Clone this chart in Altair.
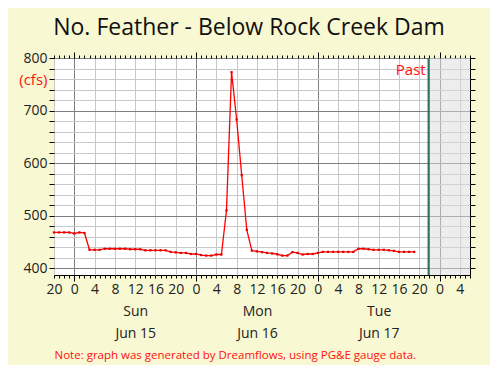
import altair as alt
import pandas as pd

# ---- data (hours counted from Jun 14 00:00) ----
start_hour = 20
flow = [468, 468, 468, 468, 466, 468, 467,
        435, 435, 435,
        437, 437, 437, 437, 437,
        436, 436, 436,
        434, 434, 434, 434, 434,
        431, 430, 429, 429, 427, 427, 425, 424, 424, 426, 426,
        510, 773, 683, 577, 473,
        433.5, 432, 430.5, 429, 428, 426.5, 424, 424, 430.5, 429, 426, 427, 427, 429,
        431, 431, 431, 431, 431, 431, 431,
        437, 437, 436, 435, 435, 435, 434, 433,
        431, 431, 431, 431]
hours = [start_hour + i for i in range(len(flow))]

x_domain = [20, 102]
y_domain = [387, 800]
past_hour = 93.85
past_label = "Past"
day_centers = [36, 60, 84]
day_names = ["Sun", "Mon", "Tue"]
day_dates = ["Jun 15", "Jun 16", "Jun 17"]
hour_ticks = list(range(20, 103))
midnights = [24, 48, 72, 96]
y_ticks = list(range(400, 801, 20))
units_value = 760
units = "(cfs)"
title = "No. Feather - Below Rock Creek Dam"
note = "Note: graph was generated by Dreamflows, using PG&E gauge data."

FONT = "Open Sans"
df = pd.DataFrame({"hour": hours, "flow": flow})
past_df = pd.DataFrame({"start": [past_hour], "end": [x_domain[1]],
                        "lo": [y_domain[0]], "hi": [y_domain[1]], "label": [past_label]})

xs = alt.Scale(domain=x_domain, nice=False, zero=False)
ys = alt.Scale(domain=y_domain, nice=False, zero=False)

# ---- axes ----
x_main = alt.Axis(
    orient="bottom", values=hour_ticks, tickSize=3, tickColor="black", domain=False,
    labelExpr="datum.value % 4 == 0 ? '' + (datum.value % 24) : ''",
    labelFontSize=14, labelFont=FONT, labelColor="#222", labelPadding=4,
    labelOverlap=False, labelFlush=False,
    grid=True,
    gridColor={"condition": {"test": "datum.value % 24 == 0", "value": "#808080"}, "value": "#c8c8c8"},
    gridOpacity={"condition": {"test": "datum.value % 4 == 0", "value": 1}, "value": 0},
    title=None)

y_main = alt.Axis(
    orient="left", values=y_ticks, tickSize=5, tickColor="black", domain=False,
    labelExpr=f"datum.value % 100 == 0 ? datum.label : (datum.value == {units_value} ? '{units}' : '')",
    labelColor={"condition": {"test": f"datum.value == {units_value}", "value": "#ff1010"}, "value": "#222"},
    labelFontSize={"condition": {"test": f"datum.value == {units_value}", "value": 15}, "value": 14},
    labelFont=FONT, labelPadding=2, labelOverlap=False, labelFlush=False,
    grid=True,
    gridColor={"condition": {"test": "datum.value % 100 == 0", "value": "#808080"}, "value": "#c8c8c8"},
    title=None)

x_mid_bottom = alt.Axis(orient="bottom", values=midnights, tickSize=6, tickColor="black",
                        labels=False, grid=False, domain=False, title=None)

day_expr = " : ".join(
    f"datum.value == {c} ? ['{d}', '{t}']" for c, d, t in zip(day_centers, day_names, day_dates)
) + " : ''"
x_days = alt.Axis(orient="bottom", values=day_centers, ticks=False, domain=False, grid=False,
                  labelExpr=day_expr, labelFontSize=14, labelFont=FONT, labelColor="#222",
                  labelPadding=29, labelLineHeight=22, labelOverlap=False, labelFlush=False,
                  title=note, titleColor="#ff1010", titleFontSize=11.5, titleFont=FONT,
                  titleFontWeight="normal", titleAnchor="start", titleAlign="left", titlePadding=9)

x_top = alt.Axis(orient="top", values=hour_ticks, tickSize=3, tickColor="black",
                 labels=False, grid=False, domain=False, title=None)
x_mid_top = alt.Axis(orient="top", values=midnights, tickSize=6, tickColor="black",
                     labels=False, grid=False, domain=False, title=None)
y_right = alt.Axis(orient="right", values=y_ticks, tickSize=5, tickColor="black",
                   labels=False, grid=False, domain=False, title=None)

# ---- layers ----
shade = alt.Chart(past_df).mark_rect(fill="#dcdcdc", opacity=0.5).encode(
    x=alt.X("start:Q", scale=xs, axis=x_days),
    x2="end:Q",
    y=alt.Y("lo:Q", scale=ys, axis=None),
    y2="hi:Q")

line = alt.Chart(df).mark_line(color="#ff0000", strokeWidth=1.3).encode(
    x=alt.X("hour:Q", scale=xs, axis=x_main),
    y=alt.Y("flow:Q", scale=ys, axis=y_main))

pts = alt.Chart(df).mark_square(color="#e00000", size=5, opacity=1).encode(
    x=alt.X("hour:Q", scale=xs, axis=x_mid_bottom),
    y=alt.Y("flow:Q", scale=ys, axis=None))

rule = alt.Chart(past_df).mark_rule(color="#2e7262", strokeWidth=2.2).encode(
    x=alt.X("start:Q", scale=xs, axis=x_top))

txt = alt.Chart(past_df).mark_text(color="#ff1010", font=FONT, fontSize=15, align="right",
                                   baseline="alphabetic", dx=-3, dy=17).encode(
    x=alt.X("start:Q", scale=xs, axis=x_mid_top),
    y=alt.Y("hi:Q", scale=ys, axis=y_right),
    text="label:N")

chart = alt.layer(shade, line, pts, rule, txt).resolve_axis(
    x="independent", y="independent"
).properties(
    width=416, height=217,
    title=alt.TitleParams(title, fontSize=23, font=FONT, fontWeight="normal", color="#111",
                          anchor="middle", dx=-13, offset=11),
    background="#f8f8d2",
    autosize=alt.AutoSizeParams(type="none"),
    padding={"left": 46, "top": 50, "right": 20, "bottom": 90},
).configure_view(stroke="black", strokeWidth=1, fill="white")

chart.save("out.html", embed_options={"renderer": "svg", "actions": False})
